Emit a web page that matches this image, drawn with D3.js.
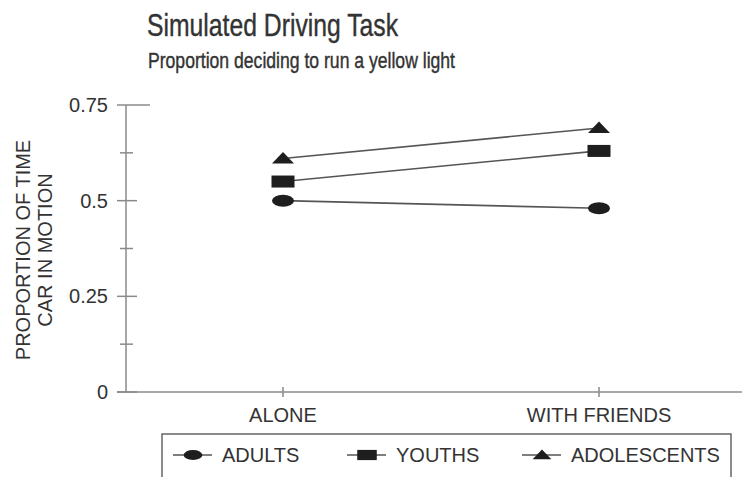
<!DOCTYPE html>
<html><head><meta charset="utf-8">
<script src="https://cdn.jsdelivr.net/npm/d3@7"></script>
<style>
body{margin:0;background:#fff;}
text{font-family:"Liberation Sans",Arial,Helvetica,sans-serif;fill:#333;}
</style></head>
<body><svg id="c" width="746" height="477"></svg>
<script>
const categories = ["ALONE", "WITH FRIENDS"];
const seriesNames = ["ADULTS", "YOUTHS", "ADOLESCENTS"];
const adults = [0.50, 0.48];
const youths = [0.55, 0.63];
const adolescents = [0.61, 0.69];
const majorTicks = [0, 0.25, 0.5, 0.75];
const majorTickLabels = ["0", "0.25", "0.5", "0.75"];
const minorTicks = [0.125, 0.375, 0.625];
const title = "Simulated Driving Task";
const subtitle = "Proportion deciding to run a yellow light";
const yTitle = ["PROPORTION OF TIME", "CAR IN MOTION"];

const svg = d3.select("#c");
const axisColor = "#8a8a8a";
const lineColor = "#555";
const markColor = "#1e1e1e";

const y = d3.scaleLinear().domain([0, 0.75]).range([392, 105]);
const x = d3.scalePoint().domain(categories).range([283, 599]);
const axisLeft = 126, axisRight = 742;

// titles
svg.append("text").attr("x", 147).attr("y", 36).attr("font-size", 32)
  .attr("stroke", "#333").attr("stroke-width", 0.4)
  .attr("textLength", 251).attr("lengthAdjust", "spacingAndGlyphs").text(title);
svg.append("text").attr("x", 148).attr("y", 68).attr("font-size", 22)
  .attr("stroke", "#333").attr("stroke-width", 0.4)
  .attr("textLength", 307).attr("lengthAdjust", "spacingAndGlyphs").text(subtitle);

// y axis title
yTitle.forEach((t, i) => {
  svg.append("text").attr("transform", `translate(${30 + i * 22},250) rotate(-90)`)
    .attr("text-anchor", "middle").attr("font-size", 20).text(t);
});

// axes lines
const g = svg.append("g").attr("stroke", axisColor).attr("stroke-width", 1.5).attr("fill", "none");
g.append("line").attr("x1", axisLeft).attr("x2", axisLeft).attr("y1", y(0.75)).attr("y2", y(0));
g.append("line").attr("x1", 117).attr("x2", axisRight).attr("y1", y(0)).attr("y2", y(0));
majorTicks.forEach(v => {
  g.append("line").attr("x1", 117).attr("x2", v === 0.75 ? 150 : 137).attr("y1", y(v)).attr("y2", y(v));
});
minorTicks.forEach(v => {
  g.append("line").attr("x1", 120).attr("x2", 133).attr("y1", y(v)).attr("y2", y(v));
});
categories.forEach(c => {
  g.append("line").attr("x1", x(c)).attr("x2", x(c)).attr("y1", y(0) - 5).attr("y2", y(0) + 5);
});

// tick labels
majorTicks.forEach((v, i) => {
  svg.append("text").attr("x", 108).attr("y", y(v)).attr("dy", "0.35em")
    .attr("text-anchor", "end").attr("font-size", 20).text(majorTickLabels[i]);
});
categories.forEach(c => {
  svg.append("text").attr("x", x(c)).attr("y", 422).attr("text-anchor", "middle")
    .attr("font-size", 20).text(c);
});

// series
const series = [
  {name: seriesNames[0], values: adults, shape: "ellipse"},
  {name: seriesNames[1], values: youths, shape: "rect"},
  {name: seriesNames[2], values: adolescents, shape: "triangle"}
];
const lineGen = d3.line().x((d, i) => x(categories[i])).y(d => y(d));

function drawMarker(sel, shape, cx, cy, s) {
  if (shape === "ellipse") {
    sel.append("ellipse").attr("cx", cx).attr("cy", cy).attr("rx", 11 * s).attr("ry", 6 * s).attr("fill", markColor);
  } else if (shape === "rect") {
    sel.append("rect").attr("x", cx - 11.5 * s).attr("y", cy - 6 * s).attr("width", 23 * s).attr("height", 12 * s).attr("fill", markColor);
  } else {
    const pts = [[cx, cy - 6.5 * s], [cx + 11 * s, cy + 5 * s], [cx - 11 * s, cy + 5 * s]];
    sel.append("polygon").attr("points", pts.map(p => p.join(",")).join(" ")).attr("fill", markColor);
  }
}

series.forEach(s => {
  svg.append("path").datum(s.values).attr("d", lineGen)
    .attr("fill", "none").attr("stroke", lineColor).attr("stroke-width", 1.6);
  s.values.forEach((v, i) => drawMarker(svg, s.shape, x(categories[i]), y(v), 1));
});

// legend
svg.append("rect").attr("x", 162).attr("y", 434).attr("width", 569).attr("height", 50)
  .attr("fill", "none").attr("stroke", "#666").attr("stroke-width", 1.5);
const legendX = [173, 347, 522];
series.forEach((s, i) => {
  const lx = legendX[i];
  svg.append("line").attr("x1", lx).attr("x2", lx + 39).attr("y1", 455).attr("y2", 455)
    .attr("stroke", lineColor).attr("stroke-width", 1.5);
  drawMarker(svg, s.shape, lx + 20, 455, 0.85);
  svg.append("text").attr("x", lx + 49).attr("y", 462).attr("font-size", 20).text(s.name);
});
</script></body></html>
